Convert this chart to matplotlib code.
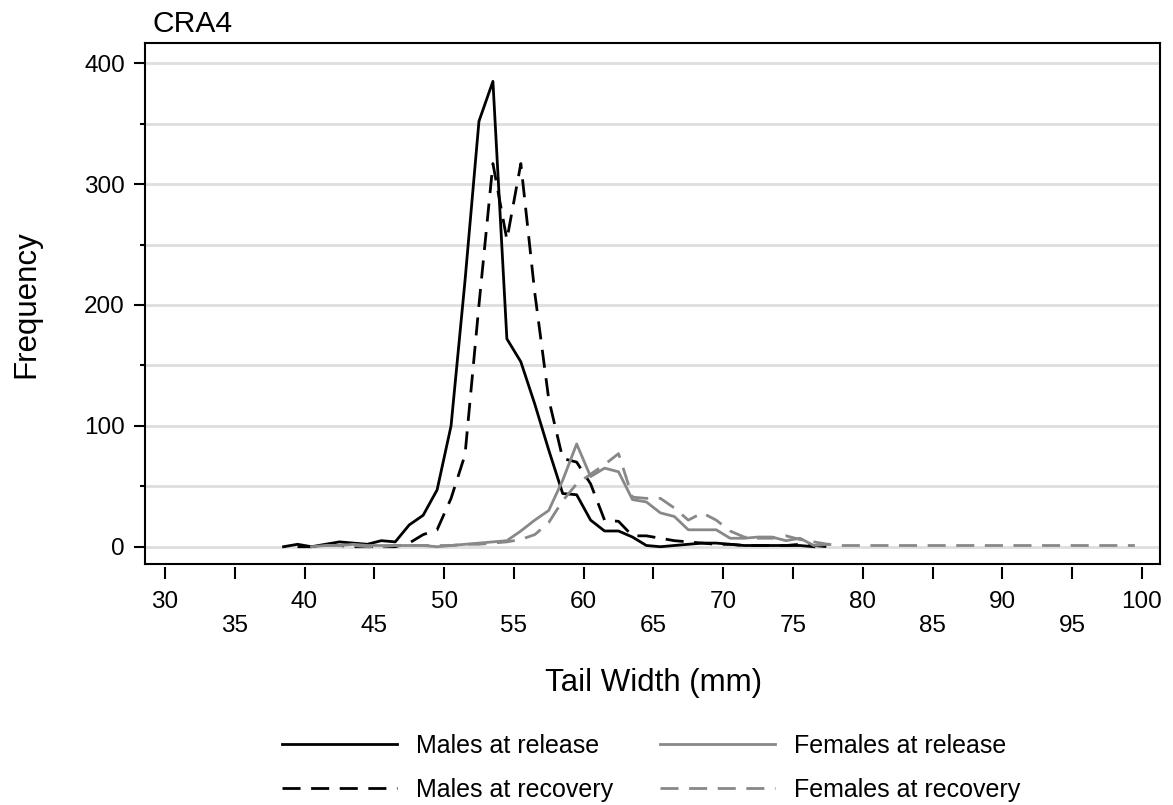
import numpy as np
import matplotlib
matplotlib.use("Agg")
import matplotlib.pyplot as plt
from matplotlib.lines import Line2D

plt.rcParams['font.family'] = ['Liberation Sans', 'DejaVu Sans']

# tail width bin midpoints (mm)
tail_width = np.arange(38.5, 100.0, 1.0)

# frequencies, each series starting at its own first bin
males_release_start = 38.5
males_release = [0, 2, 0, 2, 4, 3, 2, 5, 4, 18, 26, 47, 100, 220, 352, 385,
                 172, 153, 118, 80, 44, 43, 22, 13, 13, 8, 1, 0, 1, 2, 3, 3,
                 2, 1, 1, 1, 1, 1, 0]

males_recovery_start = 39.5
males_recovery = [0, 0, 1, 1, 0, 0, 0, 0, 3, 10, 14, 40, 76, 200, 317, 254,
                  317, 210, 122, 73, 70, 52, 22, 21, 9, 9, 7, 5, 4, 3, 2, 2,
                  1, 1, 1, 1, 2, 1, 0]

females_release_start = 40.5
females_release = [0, 1, 1, 2, 1, 1, 1, 1, 1, 0, 1, 2, 3, 4, 5, 13, 22, 30,
                   55, 85, 58, 65, 62, 39, 37, 28, 25, 14, 14, 14, 7, 7, 8,
                   8, 5, 7, 1, 2]

females_recovery_start = 41.5
females_recovery = [1, 1, 1, 0, 0, 1, 1, 1, 1, 1, 2, 2, 3, 4, 6, 10, 20, 38,
                    52, 60, 68, 77, 41, 40, 40, 32, 22, 28, 22, 13, 8, 7, 7,
                    9, 6, 4, 2, 1, 1, 1, 1, 1, 1, 1, 1, 1, 1, 1, 1, 1, 1, 1,
                    1, 1, 1, 1, 1, 1, 1]

dash = (0, (6.5, 3.8))
series = [
    ("Males at release", males_release_start, males_release, 'black', '-'),
    ("Males at recovery", males_recovery_start, males_recovery, 'black', dash),
    ("Females at release", females_release_start, females_release, '#888888', '-'),
    ("Females at recovery", females_recovery_start, females_recovery, '#888888', dash),
]

fig = plt.figure(figsize=(11.73, 8.05), dpi=100)
ax = fig.add_axes([145 / 1173, 1 - 564 / 805, 1015 / 1173, (564 - 43.3) / 805])

handles = []
for label, start, vals, col, ls in series:
    i0 = int(np.searchsorted(tail_width, start))
    xs = tail_width[i0:i0 + len(vals)]
    h, = ax.plot(xs, vals, color=col, linestyle=ls, lw=2.0, label=label)
    handles.append(h)

ax.set_xlim(28.57, 101.3)
ax.set_ylim(-14.3, 416.5)

ax.set_xticks(np.arange(30, 101, 10))
ax.set_xticks(np.arange(35, 100, 10), minor=True)
ax.set_xticklabels([str(v) for v in range(30, 101, 10)])
ax.set_xticklabels([str(v) for v in range(35, 100, 10)], minor=True)
ax.set_yticks(np.arange(0, 401, 100))
ax.set_yticks(np.arange(50, 400, 100), minor=True)

ax.set_axisbelow(True)
ax.yaxis.grid(True, which='both', color='#dedede', lw=2.0)

for s in ax.spines.values():
    s.set_linewidth(1.5)
# the x ticks sit a little below the frame
ax.spines['bottom'].set_position(('outward', 2.2))
ax.spines['bottom'].set_visible(False)
ax.add_artist(Line2D([0, 1], [0, 0], transform=ax.transAxes, color='black',
                     lw=1.5, clip_on=False))

ax.tick_params(axis='x', which='both', direction='out', length=8.6, width=1.5,
               labelsize=17.5)
ax.tick_params(axis='x', which='major', pad=9)
ax.tick_params(axis='x', which='minor', pad=25.6)
ax.tick_params(axis='y', which='major', direction='out', length=8, width=1.5,
               pad=6.5, labelsize=17.5)
ax.tick_params(axis='y', which='minor', direction='out', length=3.6, width=1.5)

fig.text(152 / 1173, 1 - 31.7 / 805, "CRA4", fontsize=21.6, va='baseline', ha='left')
fig.text(26 / 1173, 1 - 304 / 805, "Frequency", fontsize=22.5, rotation=90,
         va='center', ha='center')
fig.text(654 / 1173, 1 - 683 / 805, "Tail Width (mm)", fontsize=22.5,
         va='center', ha='center')

fig.legend(handles=handles, ncol=2, frameon=False, fontsize=18,
           loc='upper left', bbox_to_anchor=(282 / 1173, 1 - 733.5 / 805),
           borderaxespad=0, borderpad=0, handlelength=4.6, handletextpad=0.76,
           columnspacing=1.86, labelspacing=0.8)

fig.savefig("out.png", dpi=100)
